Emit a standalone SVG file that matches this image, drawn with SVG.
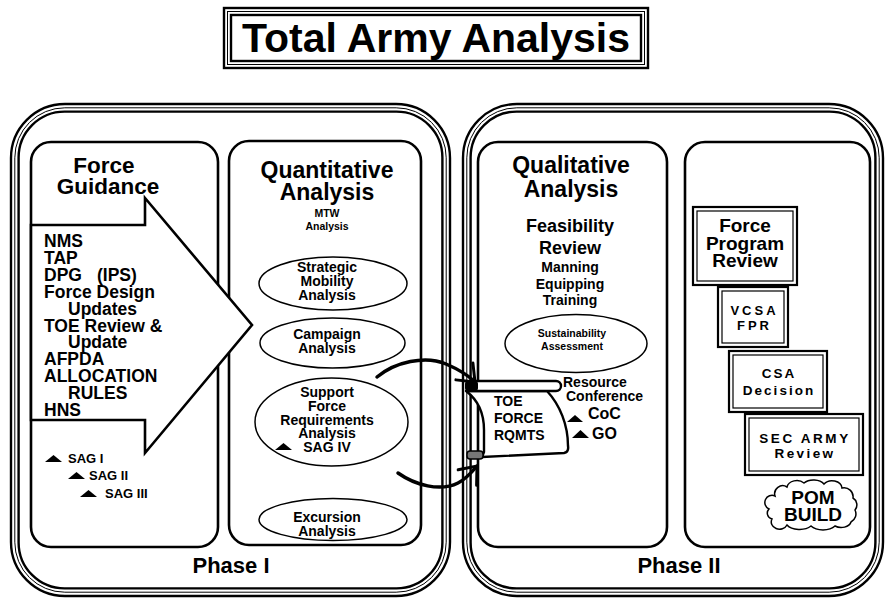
<svg xmlns="http://www.w3.org/2000/svg" width="885" height="599" viewBox="0 0 885 599">
<defs>
<style>
.t{font-family:"Liberation Sans",Arial,Helvetica,sans-serif;font-weight:bold;fill:#000;}
.m{text-anchor:middle;}
.box{fill:#fff;stroke:#000;stroke-width:2.6;}
.th{fill:none;stroke:#000;stroke-width:2.4;}
.tn{fill:none;stroke:#000;stroke-width:1;}
.ell{fill:#fff;stroke:#000;stroke-width:1.5;}
.tri{fill:#000;}
.db1{fill:#fff;stroke:#000;stroke-width:2.2;}
.db2{fill:none;stroke:#000;stroke-width:1.2;}
.arr{fill:none;stroke:#000;stroke-width:3.5;stroke-linecap:round;}
</style>
<marker id="hd" markerUnits="userSpaceOnUse" markerWidth="30" markerHeight="30" refX="0" refY="0" viewBox="-20 -15 30 30" orient="auto">
<path d="M-15,-12 L0,0 L-15,12" fill="none" stroke="#000" stroke-width="3" stroke-linecap="round" stroke-linejoin="miter"/>
</marker>
</defs>
<rect width="885" height="599" fill="#fff"/>

<g id="title">
<rect x="224" y="8" width="424" height="60" class="th" fill="#fff"/>
<rect x="227.5" y="11.5" width="417" height="53" class="tn"/>
<rect x="231" y="15" width="410" height="46" class="th"/>
<text x="436" y="52" class="t m" font-size="41">Total Army Analysis</text>
</g>

<g id="phase1">
<rect x="11" y="104" width="439" height="492" rx="54" class="th" fill="#fff"/>
<rect x="14.8" y="107.8" width="431.4" height="484.4" rx="50" class="tn"/>
<rect x="18.6" y="111.6" width="423.8" height="476.8" rx="46" class="th"/>
<text x="231" y="573" class="t m" font-size="22">Phase I</text>
</g>

<g id="phase2">
<rect x="463" y="104" width="420" height="492" rx="54" class="th" fill="#fff"/>
<rect x="466.8" y="107.8" width="412.4" height="484.4" rx="50" class="tn"/>
<rect x="470.6" y="111.6" width="404.8" height="476.8" rx="46" class="th"/>
<text x="679" y="573" class="t m" font-size="22">Phase II</text>
</g>

<g id="force-guidance">
<rect x="31" y="142" width="187" height="405" rx="20" class="box"/>
<text x="104" y="173" class="t m" font-size="22.5">Force</text>
<text x="108" y="194" class="t m" font-size="22.5">Guidance</text>
</g>

<g id="quantitative-analysis">
<rect x="229" y="141" width="192" height="404" rx="20" class="box"/>
<text x="327" y="178" class="t m" font-size="23">Quantitative</text>
<text x="327" y="200" class="t m" font-size="23">Analysis</text>
<text x="327" y="217" class="t m" font-size="10.5">MTW</text>
<text x="327" y="230" class="t m" font-size="10.5">Analysis</text>
</g>

<g id="guidance-arrow">
<polygon points="31,225 145,225 145,198 252,325 145,453 145,420 31,420" fill="#fff" stroke="#000" stroke-width="2.6" stroke-linejoin="miter"/>
<text class="t" font-size="17.5">
<tspan x="44" y="247">NMS</tspan>
<tspan x="44" y="264">TAP</tspan>
<tspan x="44" y="281">DPG</tspan><tspan x="97" y="281">(IPS)</tspan>
<tspan x="44" y="298">Force Design</tspan>
<tspan x="68" y="314.5">Updates</tspan>
<tspan x="44" y="331.5">TOE Review &amp;</tspan>
<tspan x="68" y="348">Update</tspan>
<tspan x="44" y="365">AFPDA</tspan>
<tspan x="44" y="382">ALLOCATION</tspan>
<tspan x="68" y="399">RULES</tspan>
<tspan x="44" y="416">HNS</tspan>
</text>
</g>

<g id="sag-levels">
<polygon points="45,462 62,462 53.5,455" class="tri"/>
<text x="68" y="463" class="t" font-size="13">SAG I</text>
<polygon points="68,479 85,479 76.5,472" class="tri"/>
<text x="89" y="480" class="t" font-size="13">SAG II</text>
<polygon points="80,497 97,497 88.5,490" class="tri"/>
<text x="105" y="498" class="t" font-size="13">SAG III</text>
</g>

<g id="strategic-mobility">
<ellipse cx="333" cy="283.5" rx="74" ry="26.5" class="ell"/>
<text x="327" y="272" class="t m" font-size="14">Strategic</text>
<text x="327" y="286" class="t m" font-size="14">Mobility</text>
<text x="327" y="299.5" class="t m" font-size="14">Analysis</text>
</g>

<g id="campaign">
<ellipse cx="332.5" cy="343" rx="72.5" ry="25" class="ell"/>
<text x="327" y="339" class="t m" font-size="14">Campaign</text>
<text x="327" y="352.5" class="t m" font-size="14">Analysis</text>
</g>

<g id="support-force">
<ellipse cx="331.5" cy="422" rx="76.5" ry="44" class="ell"/>
<text x="327" y="397" class="t m" font-size="14">Support</text>
<text x="327" y="411" class="t m" font-size="14">Force</text>
<text x="327" y="424.5" class="t m" font-size="14">Requirements</text>
<text x="327" y="438" class="t m" font-size="14">Analysis</text>
<text x="327" y="452" class="t m" font-size="14">SAG IV</text>
<polygon points="275,450 292,450 283.5,443" class="tri"/>
</g>

<g id="excursion">
<ellipse cx="333" cy="519.5" rx="74" ry="21" class="ell"/>
<text x="327" y="522" class="t m" font-size="14">Excursion</text>
<text x="327" y="535.5" class="t m" font-size="14">Analysis</text>
</g>

<g id="qualitative-analysis">
<rect x="478" y="142" width="189" height="405" rx="20" class="box"/>
<text x="571" y="173" class="t m" font-size="23">Qualitative</text>
<text x="571" y="197" class="t m" font-size="23">Analysis</text>
<text x="570" y="232" class="t m" font-size="18">Feasibility</text>
<text x="570" y="254" class="t m" font-size="18">Review</text>
<text x="570" y="272" class="t m" font-size="14">Manning</text>
<text x="570" y="288.5" class="t m" font-size="14">Equipping</text>
<text x="570" y="305" class="t m" font-size="14">Training</text>
</g>

<g id="sustainability">
<ellipse cx="576" cy="343.5" rx="71" ry="29" class="ell"/>
<text x="572" y="337" class="t m" font-size="10.5">Sustainability</text>
<text x="572" y="350" class="t m" font-size="10.5">Assessment</text>
</g>

<g id="resource-conference">
<text x="563" y="387" class="t" font-size="14">Resource</text>
<text x="566" y="401" class="t" font-size="14">Conference</text>
<polygon points="567,422 583,422 575,415" class="tri"/>
<text x="588" y="419" class="t" font-size="16">CoC</text>
<polygon points="572,438 589,438 580.5,430" class="tri"/>
<text x="592" y="439" class="t" font-size="16">GO</text>
</g>

<g id="program-box">
<rect x="685" y="142" width="185" height="405" rx="20" class="box"/>
</g>

<g id="force-program-review">
<rect x="693" y="207" width="104" height="78" class="db1"/>
<rect x="697" y="211" width="96" height="70" class="db2"/>
<text x="745" y="232" class="t m" font-size="19">Force</text>
<text x="745" y="249.5" class="t m" font-size="19">Program</text>
<text x="745" y="267" class="t m" font-size="19">Review</text>
</g>

<g id="vcsa-fpr">
<rect x="718" y="287" width="70" height="60" class="db1"/>
<rect x="722" y="291" width="62" height="52" class="db2"/>
<text x="754.5" y="315" class="t m" font-size="13" letter-spacing="3">VCSA</text>
<text x="754.5" y="330" class="t m" font-size="13" letter-spacing="3">FPR</text>
</g>

<g id="csa-decision">
<rect x="729" y="351" width="98" height="61" class="db1"/>
<rect x="733" y="355" width="90" height="53" class="db2"/>
<text x="779" y="378" class="t m" font-size="13.5" letter-spacing="2">CSA</text>
<text x="779" y="395" class="t m" font-size="13.5" letter-spacing="2">Decision</text>
</g>

<g id="sec-army-review">
<rect x="745" y="414" width="118" height="61" class="db1"/>
<rect x="749" y="418" width="110" height="53" class="db2"/>
<text x="805" y="443" class="t m" font-size="13.5" letter-spacing="2.6">SEC ARMY</text>
<text x="805" y="458" class="t m" font-size="13.5" letter-spacing="2.4">Review</text>
</g>

<g id="pom-build">
<path d="M775,496 a8,8 0 0 1 12,-9 a10,8 0 0 1 17,-4 a12,8 0 0 1 20,1 a10,8 0 0 1 18,4 a9,9 0 0 1 11,10 a8,8 0 0 1 2,12 a9,9 0 0 1 -4,12 a10,7 0 0 1 -16,4 a14,8 0 0 1 -24,0 a14,8 0 0 1 -24,-1 a8,7 0 0 1 -15,-6 a6,6 0 0 1 -3,-10 a6,6 0 0 1 6,-13 Z" fill="#fff" stroke="#000" stroke-width="1.5"/>
<text x="813" y="504" class="t m" font-size="19">POM</text>
<text x="813" y="521" class="t m" font-size="19">BUILD</text>
</g>

<g id="toe-force-rqmts">
<path d="M466,391 C478,400 484,412 484,430 L484,452 L482,457 L564,453 Q569,452 568,446 C568,425 560,405 547,391 Z" fill="#fff" stroke="#000" stroke-width="2.4" stroke-linejoin="round"/>
<path d="M470,381 L556,381 A5,5 0 0 1 556,391 L470,391 Z" fill="#fff" stroke="#000" stroke-width="2.4" stroke-linejoin="round"/>
<rect x="465" y="381" width="13" height="10" rx="3" fill="#000"/>
<rect x="467" y="451" width="16" height="8" rx="3" fill="#777" stroke="#000" stroke-width="1.5"/>
<text class="t" font-size="14">
<tspan x="494" y="406">TOE</tspan>
<tspan x="494" y="423">FORCE</tspan>
<tspan x="494" y="440">RQMTS</tspan>
</text>
</g>

<g id="connectors">
<path d="M377,377 C395,362 425,355 446,364 C460,370 470,377 475,382" class="arr" marker-end="url(#hd)"/>
<path d="M398,473 C415,485 440,492 458,483 C466,479 472,472 477,466" class="arr" marker-end="url(#hd)"/>
</g>
</svg>
